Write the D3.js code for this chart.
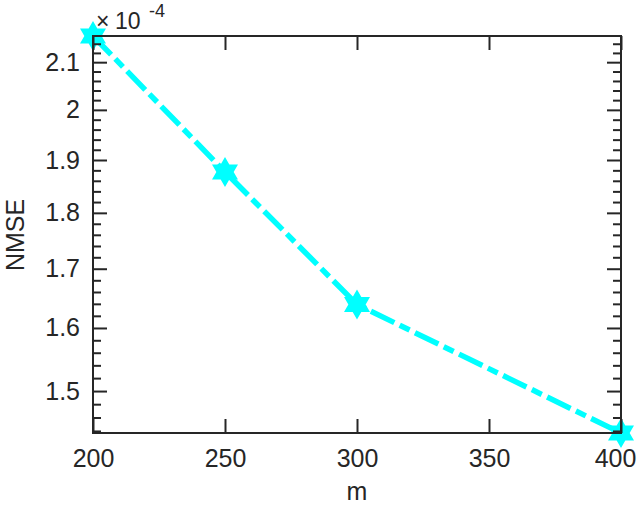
<!DOCTYPE html>
<html>
<head>
<meta charset="utf-8">
<script src="https://cdn.jsdelivr.net/npm/d3@7"></script>
<style>
  body { margin: 0; background: #fff; }
  text { font-family: "Liberation Sans", Arial, sans-serif; fill: #262626; }
</style>
</head>
<body>
<div id="chart"></div>
<script>
// data
const mValues = [200, 250, 300, 400];
const nmseValues = [2.157e-4, 1.877e-4, 1.639e-4, 1.437e-4];
const xTicks = [200, 250, 300, 350, 400];
const yTicks = [1.5, 1.6, 1.7, 1.8, 1.9, 2.0, 2.1];
const yMinorTicks = [1.44, 1.46, 1.48, 1.52, 1.54, 1.56, 1.58, 1.62, 1.64, 1.66, 1.68,
  1.72, 1.74, 1.76, 1.78, 1.82, 1.84, 1.86, 1.88, 1.92, 1.94, 1.96, 1.98,
  2.02, 2.04, 2.06, 2.08, 2.12, 2.14];
const yLabels = ["1.5", "1.6", "1.7", "1.8", "1.9", "2", "2.1"];

var margin = { top: 36, right: 19, bottom: 72, left: 93 },
  width = 640 - margin.left - margin.right,
  height = 505 - margin.top - margin.bottom;

var x = d3.scaleLinear().domain([200, 400]).range([0, width]);
var y = d3.scaleLog().domain([1.437e-4, 2.157e-4]).range([height, 0]);

var root = d3
  .select("#chart")
  .append("svg")
  .attr("width", 640)
  .attr("height", 505);

var svg = root
  .append("g")
  .attr("transform", "translate(" + margin.left + "," + margin.top + ")");

const axisColor = "#262626";

// line + markers
var line = d3
  .line()
  .x((d, i) => x(mValues[i]))
  .y((d) => y(d));

svg
  .append("path")
  .datum(nmseValues)
  .attr("fill", "none")
  .attr("stroke", "#00ffff")
  .attr("stroke-width", 5.5)
  .attr("stroke-dasharray", "26,6,11,6")
  .attr("d", line);

function hexagram(r) {
  var pts = [];
  var ri = r / Math.sqrt(3);
  for (var k = 0; k < 12; k++) {
    var a = -Math.PI / 2 + (k * Math.PI) / 6;
    var rr = k % 2 == 0 ? r : ri;
    pts.push([rr * Math.cos(a), rr * Math.sin(a)]);
  }
  return "M" + pts.map((p) => p.join(",")).join("L") + "Z";
}

svg
  .selectAll(".dot")
  .data(nmseValues)
  .enter()
  .append("path")
  .attr("class", "dot")
  .attr("transform", (d, i) => "translate(" + x(mValues[i]) + "," + y(d) + ")")
  .attr("d", hexagram(15))
  .attr("fill", "#00ffff");

// box
svg
  .append("rect")
  .attr("width", width)
  .attr("height", height)
  .attr("fill", "none")
  .attr("stroke", axisColor)
  .attr("stroke-width", 2);

// x ticks (bottom and top, inward)
svg
  .append("g")
  .attr("transform", `translate(0,${height})`)
  .call(d3.axisBottom(x).tickValues(xTicks).tickSizeInner(-14).tickSizeOuter(0).tickPadding(16))
  .call((g) => g.select(".domain").remove())
  .call((g) => g.selectAll("line").attr("stroke", axisColor).attr("stroke-width", 2))
  .call((g) => g.selectAll("text").style("font-size", "25px").attr("fill", axisColor).attr("font-family", null))
  .call((g) => g.selectAll("text").filter((d) => d == 400).attr("dx", -6));

svg
  .append("g")
  .call(d3.axisTop(x).tickValues(xTicks).tickSizeInner(-14).tickSizeOuter(0).tickFormat(""))
  .call((g) => g.select(".domain").remove())
  .call((g) => g.selectAll("line").attr("stroke", axisColor).attr("stroke-width", 2));

// y ticks (left and right, inward)
var yMajor = yTicks.map((v) => v * 1e-4);
var yMinor = yMinorTicks.map((v) => v * 1e-4);

svg
  .append("g")
  .call(
    d3.axisLeft(y).tickValues(yMajor).tickSizeInner(-14).tickSizeOuter(0).tickPadding(13)
      .tickFormat((d, i) => yLabels[i])
  )
  .call((g) => g.select(".domain").remove())
  .call((g) => g.selectAll("line").attr("stroke", axisColor).attr("stroke-width", 2))
  .call((g) => g.selectAll("text").style("font-size", "25px").attr("fill", axisColor).attr("font-family", null));

svg
  .append("g")
  .call(d3.axisLeft(y).tickValues(yMinor).tickSizeInner(-8).tickSizeOuter(0).tickFormat(""))
  .call((g) => g.select(".domain").remove())
  .call((g) => g.selectAll("line").attr("stroke", axisColor).attr("stroke-width", 2));

svg
  .append("g")
  .attr("transform", `translate(${width},0)`)
  .call(d3.axisRight(y).tickValues(yMajor).tickSizeInner(-14).tickSizeOuter(0).tickFormat(""))
  .call((g) => g.select(".domain").remove())
  .call((g) => g.selectAll("line").attr("stroke", axisColor).attr("stroke-width", 2));

svg
  .append("g")
  .attr("transform", `translate(${width},0)`)
  .call(d3.axisRight(y).tickValues(yMinor).tickSizeInner(-8).tickSizeOuter(0).tickFormat(""))
  .call((g) => g.select(".domain").remove())
  .call((g) => g.selectAll("line").attr("stroke", axisColor).attr("stroke-width", 2));

// labels
root
  .append("text")
  .attr("x", margin.left + width / 2)
  .attr("y", 500)
  .attr("text-anchor", "middle")
  .style("font-size", "25px")
  .text("m");

root
  .append("text")
  .attr("transform", "translate(24,235) rotate(-90)")
  .attr("text-anchor", "middle")
  .style("font-size", "25px")
  .text("NMSE");

// exponent
root
  .append("text")
  .attr("x", 96)
  .attr("y", 29)
  .style("font-size", "23px")
  .text("\u00d7");

root
  .append("text")
  .attr("x", 115)
  .attr("y", 29)
  .style("font-size", "23px")
  .text("10");

root
  .append("text")
  .attr("x", 149)
  .attr("y", 17)
  .style("font-size", "18px")
  .text("-4");
</script>
</body>
</html>
